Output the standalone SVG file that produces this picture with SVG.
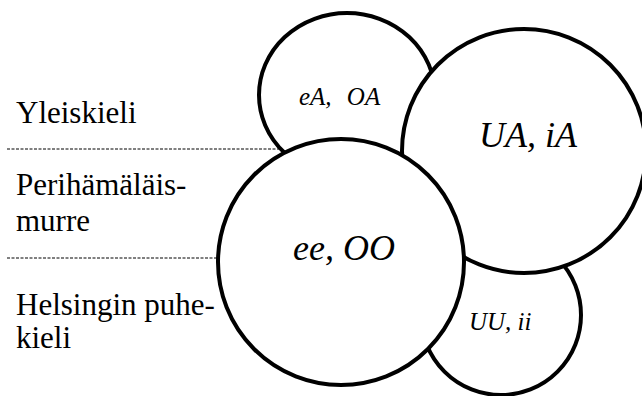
<svg xmlns="http://www.w3.org/2000/svg" width="642" height="396" viewBox="0 0 642 396">
<style>
.bg{fill:#fff}
.c{fill:#fff;stroke:#000;stroke-width:4}
.d{stroke:#000;stroke-width:1;stroke-dasharray:3 1.5;fill:none}
.t{font-family:"Liberation Serif","Times New Roman",serif;font-size:31px;fill:#000}
.l{font-family:"Liberation Serif","Times New Roman",serif;font-style:italic;fill:#000}
</style>
<rect class="bg" x="0" y="0" width="642" height="396"/>
<g id="separators">
<line class="d" x1="7" y1="149" x2="292" y2="149"/>
<line class="d" x1="7" y1="258" x2="222" y2="258"/>
</g>
<g id="labels">
<text class="t" x="16" y="123">Yleiskieli</text>
<text class="t" x="16" y="195">Perihämäläis-</text>
<text class="t" x="16" y="231">murre</text>
<text class="t" x="16" y="315">Helsingin puhe-</text>
<text class="t" x="16" y="348">kieli</text>
</g>
<g id="node-eA-OA">
<ellipse class="c" cx="347" cy="95" rx="88" ry="82"/>
<text class="l" x="299" y="105" font-size="25" word-spacing="9">eA, OA</text>
</g>
<g id="node-UU-ii">
<circle class="c" cx="501" cy="315" r="80"/>
<text class="l" x="469" y="330" font-size="25">UU, ii</text>
</g>
<g id="node-UA-iA">
<circle class="c" cx="524" cy="151" r="122"/>
<text class="l" x="479" y="147" font-size="36">UA, iA</text>
</g>
<g id="node-ee-OO">
<circle class="c" cx="341" cy="262" r="123"/>
<text class="l" x="293" y="260" font-size="36">ee, OO</text>
</g>
<g id="connectors"></g>
</svg>
